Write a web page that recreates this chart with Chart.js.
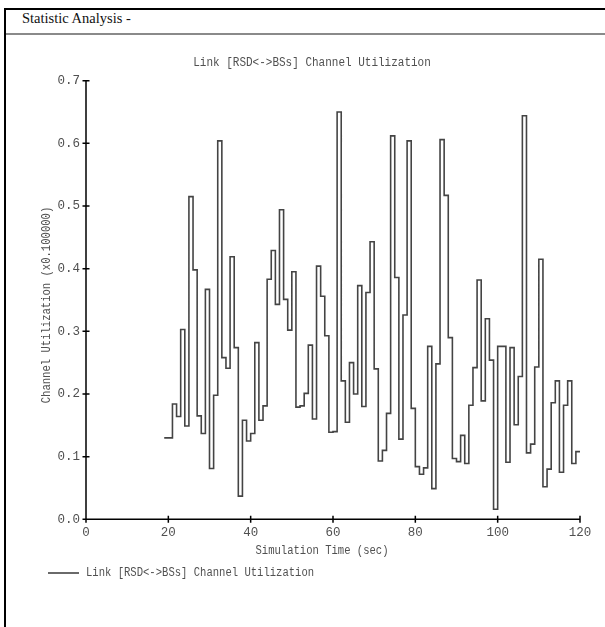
<!DOCTYPE html>
<html>
<head>
<meta charset="utf-8">
<title>Statistic Analysis</title>
<script src="https://cdn.jsdelivr.net/npm/chart.js@4.4.1/dist/chart.umd.min.js"></script>
<style>
  html, body { margin: 0; padding: 0; background: #fff; }
  body { width: 605px; height: 627px; position: relative; overflow: hidden; }
  #frame { position: absolute; left: 4px; top: 8px; width: 601px; height: 619px;
           border-top: 2px solid #000; border-left: 2px solid #000; box-sizing: border-box; }
  #head { position: absolute; left: 22px; top: 10px; font: 14.5px "Liberation Serif", serif; color: #111; white-space: nowrap; }
  #rule { position: absolute; left: 6px; top: 33px; width: 599px; height: 0; border-top: 2px solid #8a8a8a; }
  #c { position: absolute; left: 0; top: 0; }
</style>
</head>
<body>
<div id="frame"></div>
<div id="head">Statistic Analysis -</div>
<div id="rule"></div>
<canvas id="c" width="605" height="627"></canvas>
<script>
// Sample times (sec); each value holds until the next sample.
const times = [
  19, 20, 21, 22, 23, 24, 25, 26, 27, 28, 29, 30, 31, 32, 33, 34, 35, 36, 37, 38,
  39, 40, 41, 42, 43, 44, 45, 46, 47, 48, 49, 50, 51, 52, 53, 54, 55, 56, 57, 58,
  59, 60, 61, 62, 63, 64, 65, 66, 67, 68, 69, 70, 71, 72, 73, 74, 75, 76, 77, 78,
  79, 80, 81, 82, 83, 84, 85, 86, 87, 88, 89, 90, 91, 92, 93, 94, 95, 96, 97, 98,
  99, 100, 101, 102, 103, 104, 105, 106, 107, 108, 109, 110, 111, 112, 113, 114, 115, 116, 117, 118,
  119, 120
];

// Channel utilization (x0.1) per sample; last entry closes the final step.
const utilization = [
  0.130, 0.130, 0.184, 0.164, 0.303, 0.149, 0.515, 0.398, 0.165, 0.137, 0.367, 0.081, 0.198, 0.604, 0.258, 0.241, 0.419, 0.274, 0.037, 0.158,
  0.125, 0.137, 0.282, 0.158, 0.181, 0.383, 0.429, 0.343, 0.494, 0.351, 0.302, 0.395, 0.179, 0.181, 0.201, 0.278, 0.160, 0.404, 0.356, 0.293,
  0.139, 0.140, 0.650, 0.221, 0.155, 0.250, 0.200, 0.373, 0.180, 0.362, 0.443, 0.240, 0.093, 0.110, 0.169, 0.612, 0.386, 0.128, 0.326, 0.604,
  0.177, 0.084, 0.072, 0.082, 0.276, 0.049, 0.248, 0.606, 0.517, 0.290, 0.097, 0.092, 0.134, 0.089, 0.182, 0.242, 0.382, 0.189, 0.320, 0.254,
  0.016, 0.276, 0.276, 0.091, 0.274, 0.151, 0.228, 0.644, 0.106, 0.120, 0.243, 0.415, 0.052, 0.080, 0.186, 0.221, 0.075, 0.182, 0.221, 0.089,
  0.108, 0.108
];

const xTicks = [0, 20, 40, 60, 80, 100, 120];
const yTicks = [0.0, 0.1, 0.2, 0.3, 0.4, 0.5, 0.6, 0.7];

const seriesName = 'Link [RSD<->BSs] Channel Utilization';
const chartTitle = 'Link [RSD<->BSs] Channel Utilization';
const xTitle = 'Simulation Time (sec)';
const yTitle = 'Channel Utilization (x0.100000)';

const MONO = '"Liberation Mono", "DejaVu Sans Mono", monospace';
const TEXT = '#505050';
const LINE = '#444';

const points = times.map((t, i) => ({ x: t, y: utilization[i] }));

// Narrow, tall monospace text: draw at a larger size and squeeze horizontally.
function condensedText(ctx, str, x, y, size, squeeze, align, angle) {
  ctx.save();
  ctx.translate(x, y);
  if (angle) ctx.rotate(angle);
  ctx.scale(squeeze, 1);
  ctx.font = size + 'px ' + MONO;
  ctx.textAlign = align;
  ctx.textBaseline = 'middle';
  ctx.fillText(str, 0, 0);
  ctx.restore();
}

// Axis lines with cross ticks, titles and the legend row.
const decorations = {
  id: 'decorations',
  afterDraw(chart) {
    const { ctx, scales } = chart;
    const xs = scales.x, ys = scales.y;
    const x0 = xs.getPixelForValue(0), x1 = xs.getPixelForValue(120);
    const y0 = ys.getPixelForValue(0), y1 = ys.getPixelForValue(0.7);
    ctx.save();
    ctx.strokeStyle = '#000';
    ctx.lineWidth = 1.5;
    ctx.beginPath();
    ctx.moveTo(x0, y1); ctx.lineTo(x0, y0);
    ctx.moveTo(x0, y0); ctx.lineTo(x1, y0);
    yTicks.forEach(v => {
      const p = ys.getPixelForValue(v);
      ctx.moveTo(x0 - 3.5, p); ctx.lineTo(x0 + 3.5, p);
    });
    xTicks.forEach(v => {
      const p = xs.getPixelForValue(v);
      ctx.moveTo(p, y0 - 3.5); ctx.lineTo(p, y0 + 3.5);
    });
    ctx.stroke();

    ctx.fillStyle = TEXT;
    condensedText(ctx, chartTitle, 312, 63, 12.5, 0.88, 'center', 0);
    condensedText(ctx, xTitle, 322, 551, 12, 0.88, 'center', 0);
    condensedText(ctx, yTitle, 47, 305, 12, 0.88, 'center', -Math.PI / 2);

    // legend entry
    const ds = chart.data.datasets[0];
    ctx.strokeStyle = ds.borderColor;
    ctx.lineWidth = 1.6;
    ctx.beginPath();
    ctx.moveTo(48, 573); ctx.lineTo(79, 573);
    ctx.stroke();
    ctx.fillStyle = TEXT;
    condensedText(ctx, ds.label, 86, 573, 12, 0.88, 'left', 0);
    ctx.restore();
  }
};

new Chart(document.getElementById('c'), {
  type: 'line',
  data: {
    datasets: [{
      label: seriesName,
      data: points,
      stepped: 'before',
      borderColor: LINE,
      borderWidth: 1.6,
      pointRadius: 0,
      fill: false,
      tension: 0
    }]
  },
  options: {
    responsive: false,
    animation: false,
    events: [],
    layout: { padding: { left: 0, top: 80.7, right: 25, bottom: 0 } },
    plugins: {
      legend: { display: false },
      title: { display: false },
      tooltip: { enabled: false }
    },
    scales: {
      x: {
        type: 'linear',
        min: 0,
        max: 120,
        afterFit(s) { s.height = 107.7; s.paddingLeft = 0; s.paddingRight = 0; },
        afterBuildTicks(s) { s.ticks = xTicks.map(v => ({ value: v })); },
        grid: { display: false, drawTicks: false },
        border: { display: false },
        ticks: {
          autoSkip: false,
          maxRotation: 0,
          padding: 6,
          color: TEXT,
          font: { family: MONO, size: 12.5 },
          callback: v => String(v)
        }
      },
      y: {
        type: 'linear',
        min: 0,
        max: 0.7,
        afterFit(s) { s.width = 86; s.paddingTop = 0; s.paddingBottom = 0; },
        afterBuildTicks(s) { s.ticks = yTicks.map(v => ({ value: v })); },
        grid: { display: false, drawTicks: false },
        border: { display: false },
        ticks: {
          autoSkip: false,
          padding: 6,
          color: TEXT,
          font: { family: MONO, size: 12.5 },
          callback: v => Number(v).toFixed(1)
        }
      }
    }
  },
  plugins: [decorations]
});
</script>
</body>
</html>
